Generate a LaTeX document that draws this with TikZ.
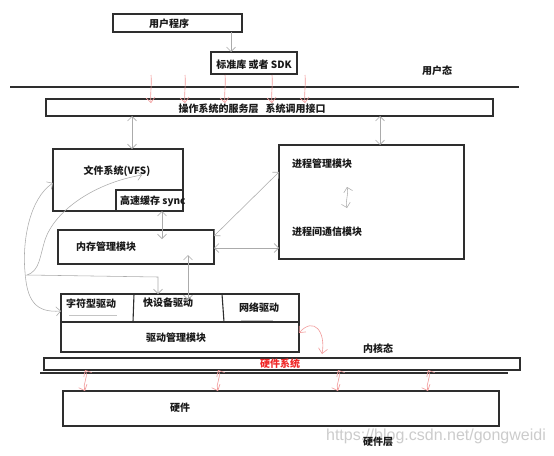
\documentclass[tikz,border=0pt]{standalone}
\usepackage{fontspec}
\setmainfont{Noto Sans CJK SC}
\newfontfamily\wmfont{Liberation Sans}
\usetikzlibrary{arrows.meta}
\definecolor{boxc}{HTML}{2E2E2E}
\definecolor{conc}{HTML}{ABABAB}
\definecolor{redc}{HTML}{F29A9A}
\definecolor{redt}{HTML}{F02828}
\begin{document}
\begin{tikzpicture}[x=1pt,y=-1pt,
  box/.style={draw=boxc, line width=1.1pt, inner sep=0pt, outer sep=0pt, anchor=north west},
  lbl/.style={font=\fontsize{10}{12}\selectfont\bfseries, inner sep=0pt, text=black!90},
  gc/.style={draw=conc, line width=0.55pt, arrows={Straight Barb[length=4.5pt,width=9pt]-Straight Barb[length=4.5pt,width=9pt]}},
  rc/.style={draw=redc, line width=0.6pt, arrows={Straight Barb[length=5pt,width=9pt]-Straight Barb[length=5pt,width=9pt]}},
  sep/.style={draw=boxc, line width=1.1pt}]
\useasboundingbox (0,0) rectangle (554,455);
\fill[white] (0,0) rectangle (554,455);

% watermark
\node[font=\wmfont\fontsize{16}{18}\selectfont, text=black!20, inner sep=0pt] (wm) at (436,436) {https://blog.csdn.net/gongweidi};

% boxes
\node[box, minimum width=129pt, minimum height=18pt] (up) at (113,14) {};
\node[lbl] (upt) at (169,24) {用户程序};
\node[box, minimum width=86pt, minimum height=22pt] (sdk) at (211,52) {};
\node[lbl] (sdkt) at (254,65) {标准库 或者 SDK};
\node[lbl] (ut) at (437,71) {用户态};
\coordinate (l1a) at (10,87);
\coordinate (l1b) at (519,87);
\draw[sep] (l1a) -- (l1b);

\node[box, minimum width=447pt, minimum height=17pt] (svc) at (46,99) {};
\node[lbl] (svct) at (252,109) {操作系统的服务层\hspace{7pt}系统调用接口};

\node[box, minimum width=130pt, minimum height=62pt] (vfs) at (53,149) {};
\node[lbl] (vfst) at (117,171) {文件系统(VFS)};
\node[box, minimum width=67pt, minimum height=21pt] (cache) at (116,190) {};
\node[lbl, anchor=west] (cachet) at (120,201) {高速缓存 sync};

\node[box, minimum width=156pt, minimum height=34pt] (mem) at (58,230) {};
\node[lbl, anchor=west] (memt) at (76,247) {内存管理模块};

\node[box, minimum width=185pt, minimum height=114pt] (proc) at (279,145) {};
\node[lbl, anchor=west] (pmt) at (292,164) {进程管理模块};
\node[lbl, anchor=west] (pct) at (292,232) {进程间通信模块};

\node[box, minimum width=238pt, minimum height=58pt] (drv) at (61,294) {};
\coordinate (rw1) at (61,322);
\coordinate (rw2) at (299,322);
\draw[sep] (rw1) -- (rw2);
\coordinate (d1a) at (134,294); \coordinate (d1b) at (133,322);
\coordinate (d2a) at (222,294); \coordinate (d2b) at (224,322);
\draw[sep] (d1a) -- (d1b);
\draw[sep] (d2a) -- (d2b);
\node[lbl] (cdt) at (91,304) {字符型驱动};
\node[lbl] (bdt) at (168,303) {快设备驱动};
\node[lbl] (ndt) at (259,308) {网络驱动};
\node[lbl] (dmt) at (176,338) {驱动管理模块};
\coordinate (u1a) at (69,315); \coordinate (u1b) at (117,315);
\coordinate (u2a) at (241,320); \coordinate (u2b) at (273,320);
\draw[conc!70, line width=0.5pt] (u1a) -- (u1b);
\draw[conc!70, line width=0.5pt] (u2a) -- (u2b);

\node[lbl] (kt) at (378,349) {内核态};
\node[box, minimum width=476pt, minimum height=12pt] (hws) at (44,358) {};
\node[lbl, text=redt] (hwst) at (280,364) {硬件系统};
\coordinate (l2a) at (40,373);
\coordinate (l2b) at (508,373);
\draw[sep] (l2a) -- (l2b);

\node[box, minimum width=436pt, minimum height=35pt] (hw) at (63,391) {};
\node[lbl] (hwt) at (180,408) {硬件};
\node[lbl] (hlt) at (378,442) {硬件层};

% vertical helper coordinates
\coordinate (x231) at (231,0);
\coordinate (x132) at (132,0);
\coordinate (x380) at (380,0);
\coordinate (x162) at (162,0);
\coordinate (x188) at (188,0);
\coordinate (x158) at (158,0);
\coordinate (x322) at (322,0);
\coordinate (y248) at (0,248);

% gray connectors
\draw[gc, arrows={-Straight Barb[length=4.5pt,width=9pt]}] (up.south -| x231) -- (sdk.north -| x231);
\draw[gc] (svc.south -| x132) -- (vfs.north -| x132);
\draw[gc] (svc.south -| x380) -- (proc.north -| x380);
\draw[gc, shorten >=-9pt] (cache.south -| x162) -- (mem.north -| x162);
\draw[gc, shorten <=-9pt, shorten >=-6pt] (mem.south -| x188) -- (drv.north -| x188);
\draw[gc] ([yshift=-6pt]mem.north east) -- ([yshift=-27pt]proc.north west);
\draw[gc] (mem.east |- y248) -- (proc.west |- y248);
\coordinate (pa) at (347,187);
\coordinate (pb) at (347,208);
\draw[gc] (pa) .. controls (349,195) and (345,200) .. (pb);

% curve A: VFS <-> char driver
\draw[gc] ([yshift=-3pt]vfs.west) .. controls (30,198) and (22,240) .. (25,272)
  .. controls (27,300) and (35,313) .. ([yshift=12pt]drv.west);
% curve B: VFS -> block driver
\coordinate (cB) at (142,175);
\draw[gc]
  (cB) .. controls (95,183) and (55,210) .. (45,240)
  .. controls (40,255) and (40,271) .. (27,275) -- (158,277) -- (drv.north -| x158);

% red arrows top
\foreach \i/\xx in {1/151,2/185,3/225,4/272,5/305}{
  \coordinate (r\i) at (\xx,75);
  \draw[rc, arrows={-Straight Barb[length=5pt,width=9pt]}] (r\i) .. controls (\xx+1,85) and (\xx-1,92) .. ([yshift=-4pt]r\i |- svc.north);
}
% red curve drv -> hws
\draw[rc] ([yshift=-10pt]drv.east) .. controls (314,316) and (326,332) .. ([yshift=4pt]hws.north -| x322);
% red arrows hws <-> hw
\foreach \i/\xx in {1/85,2/218,3/338,4/428}{
  \coordinate (h\i) at (\xx,0);
  \draw[rc] (hws.south -| h\i) .. controls (\xx+4,377) and (\xx-3,384) .. (hw.north -| h\i);
}
\end{tikzpicture}
\end{document}
